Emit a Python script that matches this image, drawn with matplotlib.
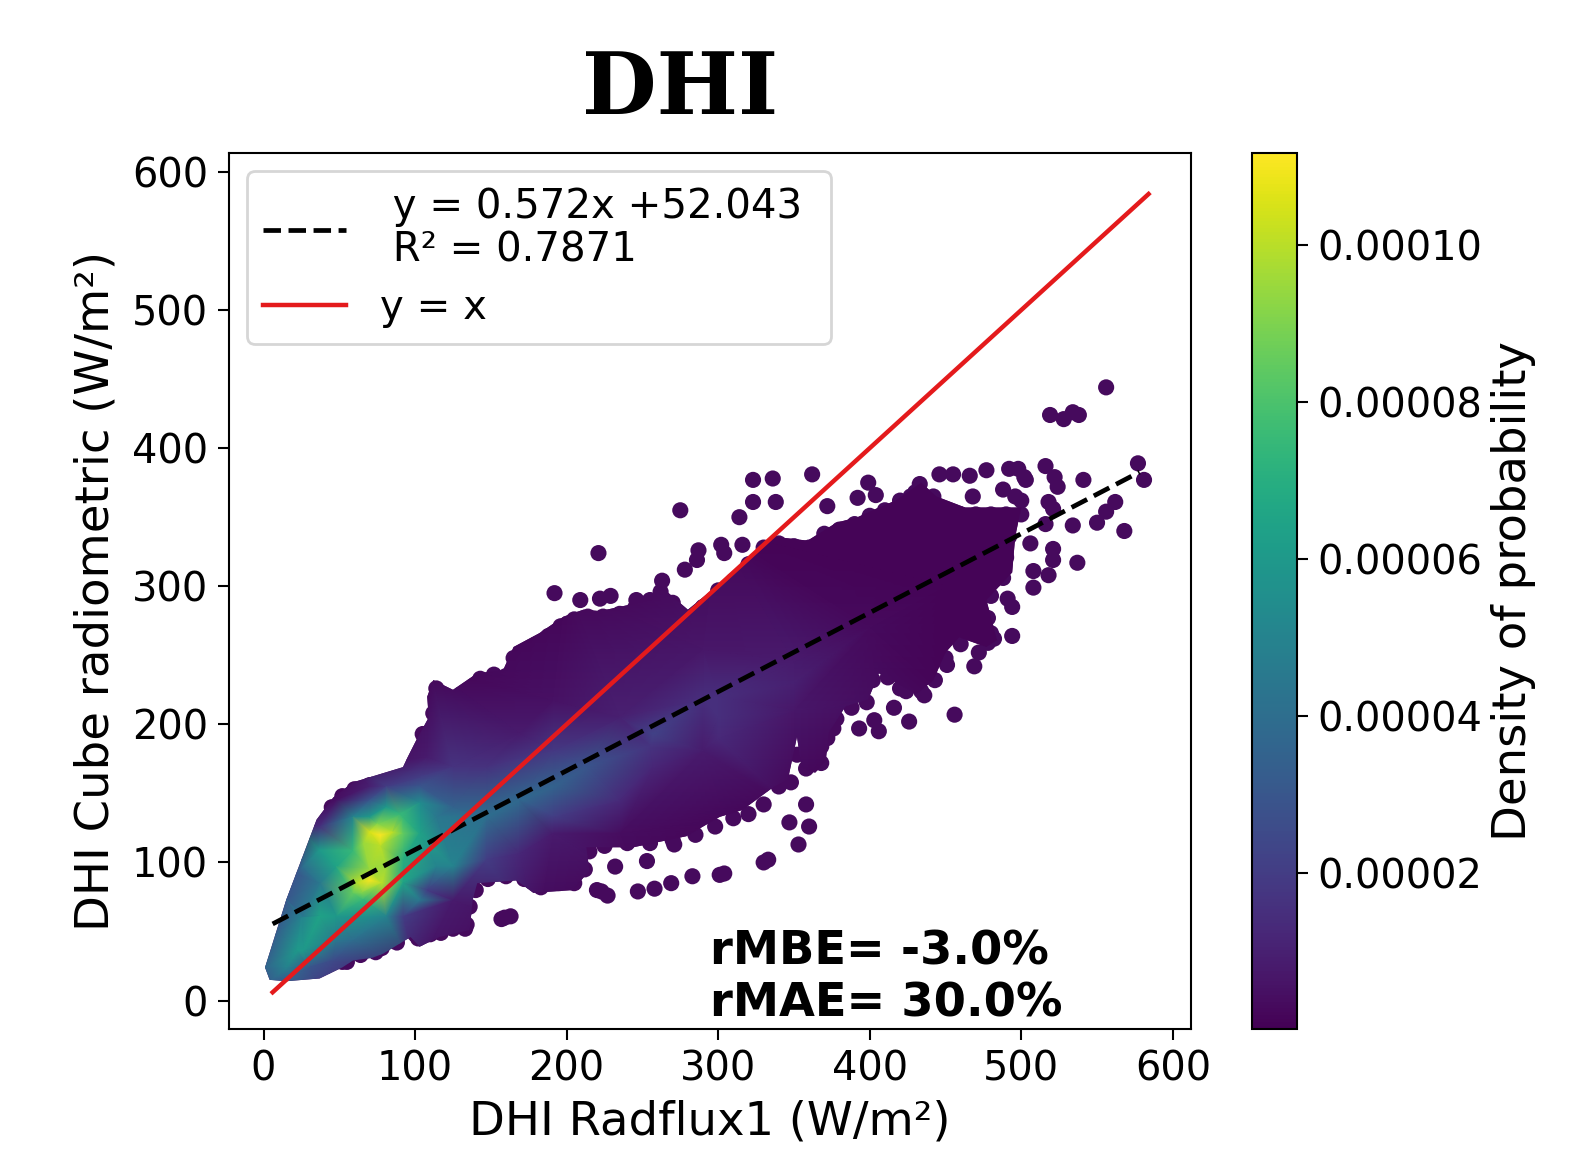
import matplotlib
matplotlib.use('Agg')
import matplotlib.pyplot as plt
from matplotlib.colors import Normalize
from matplotlib.patches import Polygon

# outline of the dense cloud
env_x = [1, 15, 35, 46, 59, 92, 95, 101, 105, 109, 108, 112, 125, 141, 158, 165, 182, 198, 211, 222, 256, 262, 280,
         309, 336, 359, 378, 392, 406, 417, 434, 444, 463, 487, 500, 496, 494, 477, 484, 477, 459, 450, 442, 431,
         406, 399, 384, 373, 371, 364, 355, 352, 346, 337, 316, 301, 279, 244, 213, 215, 204, 178, 167, 141, 138,
         136, 116, 103, 97, 79, 72, 59, 52, 37, 15, 4]
env_y = [24, 73, 131, 147, 158, 169, 176, 189, 197, 205, 220, 232, 225, 237, 239, 256, 266, 278, 283, 282, 290, 300, 283,
         309, 336, 333, 346, 350, 357, 362, 375, 365, 357, 357, 357, 336, 310, 290, 261, 256, 263, 252, 232, 222,
         237, 218, 213, 194, 174, 165, 169, 191, 160, 155, 138, 133, 119, 111, 111, 94, 80, 78, 87, 85, 73,
         51, 46, 39, 46, 34, 31, 29, 24, 16, 14, 15]

# density samples inside the cloud (units of 1e-5)
dens_x = [15, 22, 37, 59, 70, 77, 66, 90, 103, 37, 26, 48, 70, 81, 59, 37, 22, 81, 92, 103, 114, 125, 125, 103, 81, 59,
          46, 92, 108, 125, 147, 169, 147, 169, 191, 213, 257, 290, 147, 125, 103, 108, 169, 191, 191, 235, 191, 191,
          235, 235, 257, 290, 290, 300, 350, 400, 450, 255, 1, 5, 20, 15, 10, 25, 30,
          48, 59, 70, 92, 92, 103, 81, 70, 37, 48, 26, 26, 48, 70, 92, 114, 66, 300, 300, 350, 350,
          70, 85, 77, 75, 62, 78, 70, 65,
          -10, -10, 0, 20, 60, 110, 200, 300, 500, 600, 500, 450, 350, 250, 180, 100, 40, 5]
dens_y = [24, 36, 61, 78, 87, 120, 114, 135, 143, 109, 97, 145, 145, 140, 133, 126, 92, 97, 102, 121, 133, 140, 97, 73,
          61, 44, 29, 61, 80, 73, 102, 106, 133, 145, 155, 169, 193, 218, 169, 169, 162, 176, 193, 217, 181, 205, 133,
          121, 145, 121, 169, 181, 254, 220, 245, 270, 300, 184, 24, 15, 18, 73, 50, 60, 24,
          97, 109, 133, 121, 133, 155, 155, 155, 85, 61, 61, 36, 44, 61, 85, 97, 73, 205, 190, 230, 210,
          122, 122, 112, 128, 85, 85, 95, 78,
          0, 30, 70, 130, 170, 240, 300, 340, 400, 400, 300, 220, 140, 80, 50, 20, 5, 0]
dens_v = [5, 6, 6.5, 8.5, 11, 11.1, 9.5, 7.5, 5.5, 6, 4, 0.5, 3, 6, 5, 1.5, 3, 9.5, 7, 6.5, 4.5, 3.5, 5, 4.5,
          5, 4, 2.5, 2, 2, 0.8, 2, 1.2, 4, 3.8, 3.5, 3, 2.2, 1.5, 1.6, 1.7, 2, 0.8, 0.8, 0.5, 1.8, 1, 2,
          0.8, 1.3, 0.4, 1.2, 0.8, 0.7, 1.5, 0.8, 0.3, 0.1, 1.7, 3.5, 3.5, 3.5, 3, 3.5, 5, 3,
          6.5, 7.5, 6, 8.5, 7.5, 3, 2, 1, 4.5, 6, 4.5, 6, 4.5, 5.5, 6.5, 5, 7.5, 1.5, 1.3, 1, 0.7,
          10.5, 10, 10, 9, 10, 10, 9.5, 9,
          2, 3, 1, 0.2, 0.2, 0.1, 0.1, 0.1, 0.1, 0.1, 0.1, 0.1, 0.1, 0.1, 0.1, 0.5, 1.5, 3]

# single points around the cloud
dot_x = [556, 519, 528, 534, 538, 577, 581, 541, 534, 550, 556, 562, 568, 537, 506, 521, 521, 508, 518, 508, 491, 494,
         494, 478, 480, 469, 451, 456, 426, 416, 403, 393, 406, 420, 436, 376, 362, 368, 275, 323, 336, 362, 323, 338,
         314, 372, 316, 302, 304, 287, 286, 278, 399, 392, 404, 433, 427, 446, 455, 466, 477, 492, 498, 503, 516, 522,
         524, 518, 521, 516, 488, 496, 468, 442, 500, 502, 159, 163, 157, 232, 253, 271, 247, 258, 269, 283, 301, 220,
         227, 223, 74, 55, 102, 133, 117, 105, 112, 114, 121, 143, 152, 297, 333, 347, 358, 360, 353, 330, 304, 221,
         192, 222, 209, 229, 263, 246]
dot_y = [444, 424, 421, 426, 424, 389, 377, 377, 344, 346, 354, 361, 340, 317, 331, 327, 319, 311, 308, 299, 291, 285,
         264, 259, 266, 242, 243, 207, 202, 212, 203, 197, 195, 226, 221, 197, 171, 184, 355, 377, 378, 381, 361, 361,
         350, 358, 330, 330, 324, 326, 319, 312, 375, 364, 366, 374, 365, 381, 381, 380, 384, 385, 385, 377, 387, 379,
         372, 361, 356, 345, 370, 365, 365, 365, 362, 379, 60, 61, 59, 97, 101, 113, 79, 81, 85, 90, 91, 80,
         76, 79, 35, 28, 45, 52, 49, 193, 208, 226, 220, 233, 236, 143, 102, 129, 142, 126, 113, 100, 92, 324,
         295, 291, 290, 293, 304, 290]

# points along the rim of the cloud
rim_x = [45, 52, 60, 70, 80, 90, 125, 133, 143, 152, 160, 165, 172, 180, 188, 196, 205, 214, 224, 235, 245, 255, 262,
         270, 284, 290, 300, 310, 320, 330, 340, 350, 360, 370, 380, 390, 400, 410, 420, 430, 440, 450, 460, 470, 480,
         490, 500, 492, 490, 488, 480, 478, 482, 472, 460, 450, 443, 434, 424, 412, 402, 398, 388, 378, 372, 368, 358,
         352, 348, 340, 330, 320, 310, 298, 285, 270, 255, 240, 225, 215, 212, 205, 195, 183, 172, 160, 148, 140, 136,
         134, 125, 110, 100, 88, 78, 64, 52]
rim_y = [140, 148, 153, 156, 158, 160, 218, 222, 228, 232, 235, 248, 252, 258, 264, 271, 276, 278, 278, 280, 284, 290,
         296, 288, 276, 285, 297, 304, 316, 328, 331, 329, 328, 338, 341, 345, 351, 355, 362, 368, 361, 354, 352, 352,
         352, 352, 352, 336, 321, 306, 293, 277, 262, 252, 258, 248, 232, 224, 224, 234, 232, 216, 212, 204, 190, 172,
         168, 178, 158, 155, 142, 135, 132, 126, 120, 116, 114, 114, 112, 108, 95, 85, 85, 82, 88, 90, 88, 80, 68, 55,
         52, 48, 48, 42, 38, 33, 28]
dot_v = 0.3

line_x = [6, 584]
fit_x = [6, 578]
slope = 0.572
intercept = 52.043
ticks = [0, 100, 200, 300, 400, 500, 600]
cbar_ticks = [0.00002, 0.00004, 0.00006, 0.00008, 0.00010]
vmin = 1e-7
vmax = 1.117e-4

W, H = 1596, 1170
fig = plt.figure(figsize=(W / 100, H / 100), dpi=100)
ax = fig.add_axes([229 / W, 1 - 1029 / H, 962 / W, 876 / H])
norm = Normalize(vmin, vmax)
cmap = plt.cm.viridis

base = Polygon(list(zip(env_x, env_y)), closed=True, facecolor=cmap(norm(dot_v * 1e-5)), edgecolor='none', zorder=1)
ax.add_patch(base)
mesh = ax.tripcolor(dens_x, dens_y, [v * 1e-5 for v in dens_v], shading='gouraud', cmap=cmap, norm=norm, zorder=2)
mesh.set_clip_path(base)
ax.scatter(dot_x, dot_y, c=[dot_v * 1e-5] * len(dot_x), s=135, cmap=cmap, norm=norm, linewidths=0, zorder=1.5)
ax.scatter(rim_x, rim_y, c=[dot_v * 1e-5] * len(rim_x), s=135, cmap=cmap, norm=norm, linewidths=0, zorder=1.5)

ax.plot(fit_x, [slope * x + intercept for x in fit_x], color='k', ls='--', lw=3.4, zorder=3,
        label=' y = 0.572x +52.043 \n R² = 0.7871')
ax.plot(line_x, line_x, color='#e41a1c', lw=3.2, zorder=4, label='y = x')

ax.set_xlim(-22.8, 612)
ax.set_ylim(-20.6, 613.7)
ax.set_xticks(ticks)
ax.set_yticks(ticks)
ax.tick_params(labelsize=28.7, length=8, width=1.5, pad=7)
for s in ax.spines.values():
    s.set_linewidth(1.5)
ax.set_xlabel('DHI Radflux1 (W/m²)', fontsize=33.5, labelpad=7)
ax.set_ylabel('DHI Cube radiometric (W/m²)', fontsize=33.5, labelpad=10)
leg = ax.legend(loc='upper left', fontsize=29, borderaxespad=0.45, labelspacing=0.42, handlelength=2.05,
                handletextpad=0.85)
leg.get_frame().set_linewidth(2)
for t in leg.get_texts():
    t.set_linespacing(1.12)
ax.text(0.5, 0.003, 'rMBE= -3.0%\nrMAE= 30.0%', transform=ax.transAxes, fontsize=33.4, fontweight='bold',
        va='bottom', ha='left', linespacing=1.19)

cax = fig.add_axes([1252 / W, 1 - 1029 / H, 45 / W, 876 / H])
sm = plt.cm.ScalarMappable(norm=norm, cmap=cmap)
cb = fig.colorbar(sm, cax=cax, ticks=cbar_ticks, format='%.5f')
cb.ax.tick_params(labelsize=28.7, length=8, width=1.5, pad=7)
cb.outline.set_linewidth(1.5)
cb.set_label('Density of probability', fontsize=33.5, labelpad=6)

fig.text(680 / W, 1 - 90 / H, 'DHI', family='DejaVu Serif', fontweight='bold', fontsize=62, ha='center', va='center')

fig.savefig('out.png', dpi=100)
